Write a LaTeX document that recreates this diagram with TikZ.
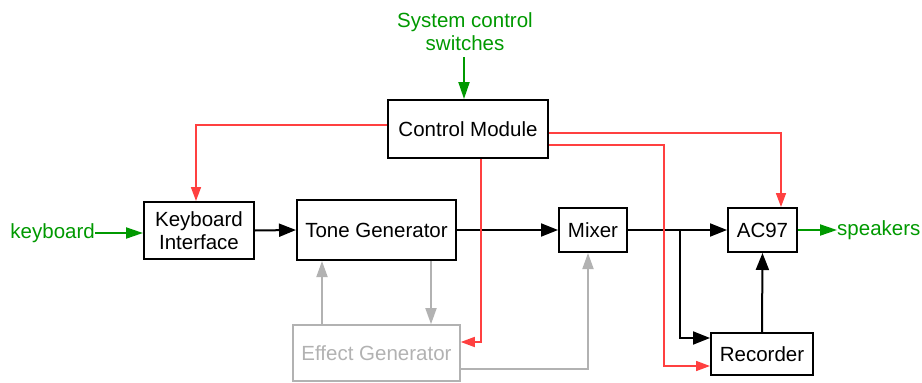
\documentclass[tikz,border=0pt]{standalone}
\usepackage{fontspec}
\setmainfont{Liberation Sans}
\usetikzlibrary{arrows.meta}
\definecolor{sgreen}{RGB}{0,153,0}
\definecolor{sred}{RGB}{255,64,64}
\definecolor{sgray}{RGB}{178,178,178}
\begin{document}
\begin{tikzpicture}[x=1pt,y=-1pt,
  every node/.style={font=\fontsize{20.5}{23}\selectfont, inner sep=0pt},
  blk/.style={draw=black, line width=2pt, fill=white, align=center},
  gblk/.style={draw=sgray, line width=1.6pt, text=sgray, align=center},
  lbl/.style={text=sgreen, align=center},
  sig/.style={draw=black, line width=2pt, -{Triangle[length=17pt,width=13pt]}},
  ctl/.style={draw=sred, line width=1.6pt, -{Triangle[length=14pt,width=10pt]}},
  fx/.style={draw=sgray, line width=1.8pt, -{Triangle[length=16pt,width=11pt]}},
  io/.style={draw=sgreen, line width=2pt, -{Triangle[length=17pt,width=11pt]}}]
\useasboundingbox (0,0) rectangle (922,383);

\node[lbl] (sys) at (465,32) {System control\\switches};
\node[blk, minimum width=160pt, minimum height=58pt] (cm) at (468,129) {Control Module};
\node[blk, minimum width=110pt, minimum height=57pt] (ki) at (199,230.5) {Keyboard\\Interface};
\node[blk, minimum width=159pt, minimum height=60pt] (tg) at (376.5,230) {Tone Generator};
\node[gblk, minimum width=167pt, minimum height=56pt] (eg) at (376.5,353) {Effect Generator};
\node[blk, minimum width=68pt, minimum height=44pt] (mix) at (593,230) {Mixer};
\node[blk, minimum width=69pt, minimum height=44pt] (ac) at (762.5,230) {AC97};
\node[blk, minimum width=102pt, minimum height=42pt] (rec) at (762,354) {Recorder};
\node[lbl, anchor=east] (kb) at (95,233) {keyboard};
\node[lbl, anchor=west] (spk) at (837,230) {speakers};

\coordinate (br) at (680,230);
\coordinate (rb) at (664,366);

% green inputs/outputs
\draw[io, shorten <=6pt] (sys.south -| cm.north) ++(-4,0) coordinate (s0) -- (s0 |- cm.north);
\draw[io] (kb.east) -- (kb.east -| ki.west);
\draw[io] (ac.east) -- (spk.west);

% black signal path
\draw[sig] (ki.east) -- (tg.west);
\draw[sig] (tg.east) -- (mix.west);
\draw[sig] (mix.east) -- (ac.west);
\draw[sig] (br) |- ([yshift=16pt]rec.west);
\draw[sig] (rec.north) -- (ac.south);

% gray effect path
\draw[fx] ([xshift=-54.5pt]eg.north) -- ([xshift=-54.5pt]tg.south);
\draw[fx] ([xshift=54.5pt]tg.south) -- ([xshift=54.5pt]eg.north);
\draw[fx] ([yshift=-16pt]eg.east) -| ([xshift=-5pt]mix.south);

% red control lines
\draw[ctl] ([yshift=4pt]cm.west) -| ([xshift=-3pt]ki.north);
\draw[ctl] ([yshift=-4pt]cm.east) -| ([xshift=18.5pt]ac.north);
\draw[ctl] ([yshift=-16pt]cm.east) -| (rb) -- ([yshift=-12pt]rec.west);
\draw[ctl] ([xshift=13pt]cm.south) |- ([yshift=11pt]eg.east);
\end{tikzpicture}
\end{document}
